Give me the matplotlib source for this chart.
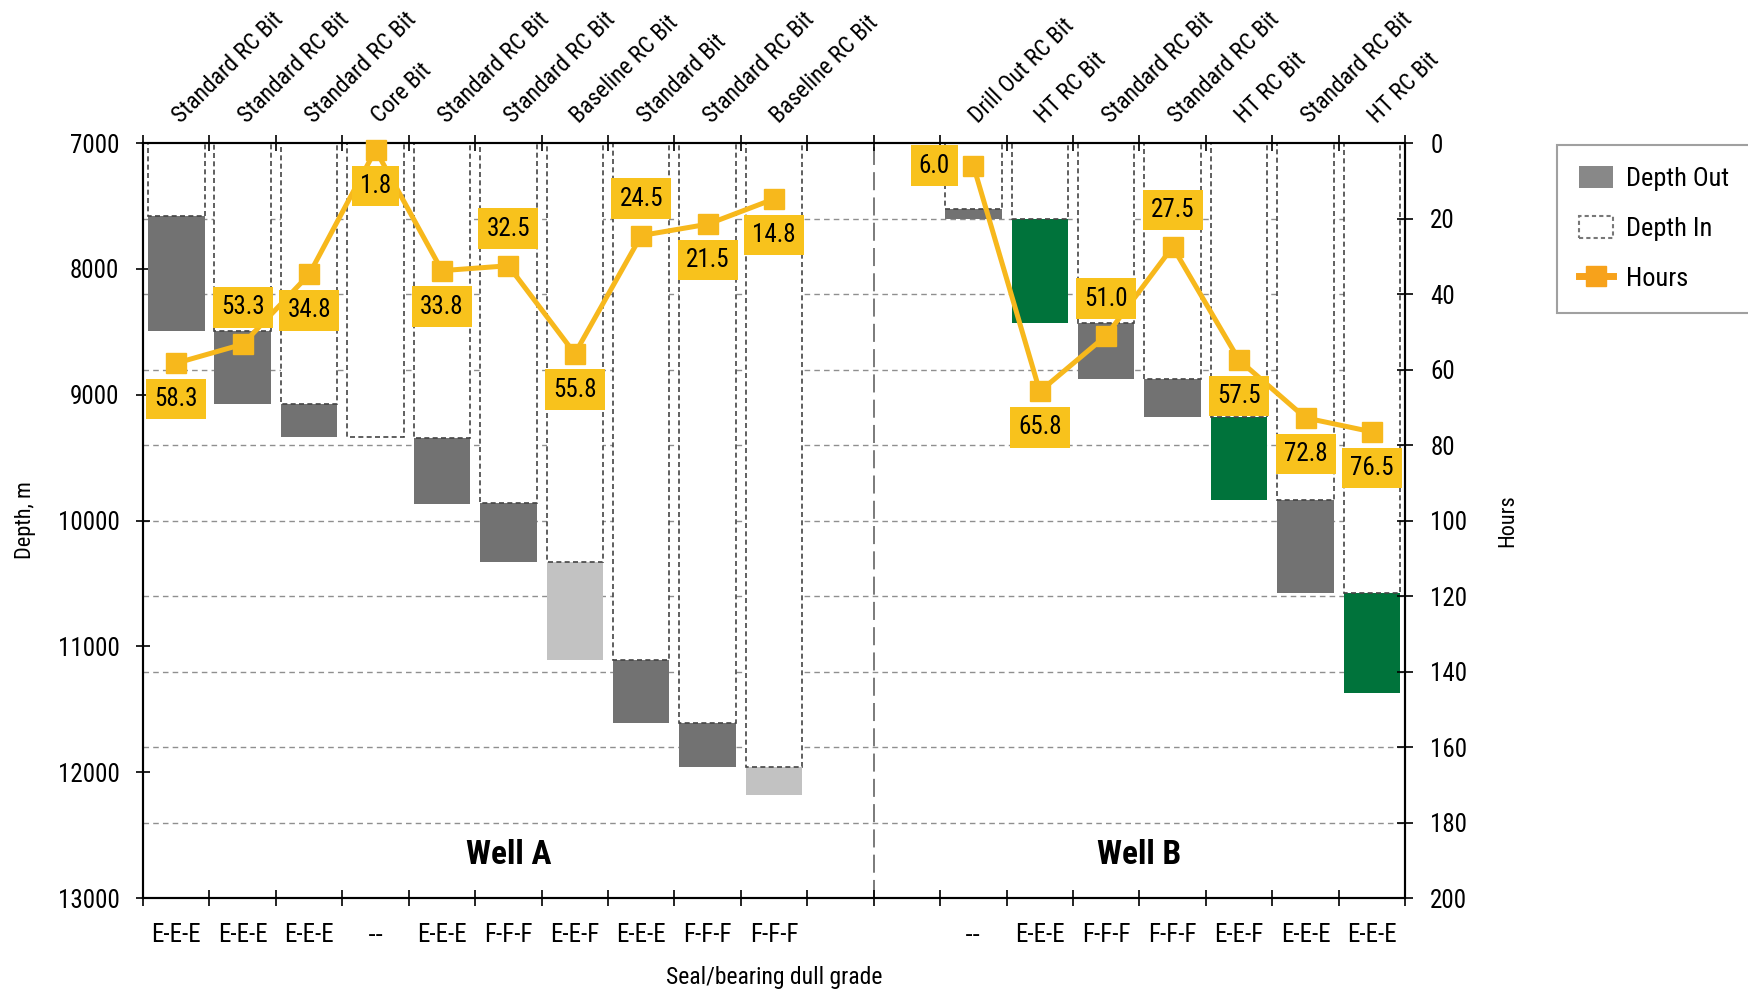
import numpy as np
import matplotlib
matplotlib.use("Agg")
import matplotlib.pyplot as plt
from matplotlib.patches import Patch
from matplotlib.lines import Line2D

plt.rcParams['font.family'] = ['Roboto Condensed', 'DejaVu Sans']

# --- data ---
well_a_bits = ["Standard RC Bit", "Standard RC Bit", "Standard RC Bit", "Core Bit",
               "Standard RC Bit", "Standard RC Bit", "Baseline RC Bit", "Standard Bit",
               "Standard RC Bit", "Baseline RC Bit"]
well_a_grades = ["E-E-E", "E-E-E", "E-E-E", "--", "E-E-E", "F-F-F", "E-E-F", "E-E-E", "F-F-F", "F-F-F"]
well_a_depth_in = [7580, 8490, 9075, 9340, 9345, 9860, 10330, 11105, 11610, 11955]
well_a_depth_out = [8490, 9075, 9335, 9340, 9865, 10330, 11105, 11610, 11955, 12180]
well_a_hours = [58.3, 53.3, 34.8, 1.8, 33.8, 32.5, 55.8, 24.5, 21.5, 14.8]

well_b_bits = ["Drill Out RC Bit", "HT RC Bit", "Standard RC Bit", "Standard RC Bit",
               "HT RC Bit", "Standard RC Bit", "HT RC Bit"]
well_b_grades = ["--", "E-E-E", "F-F-F", "F-F-F", "E-E-F", "E-E-E", "E-E-E"]
well_b_depth_in = [7525, 7600, 8430, 8872, 9180, 9835, 10575]
well_b_depth_out = [7600, 8430, 8872, 9180, 9835, 10575, 11370]
well_b_hours = [6.0, 65.8, 51.0, 27.5, 57.5, 72.8, 76.5]

depth_ticks = [7000, 8000, 9000, 10000, 11000, 12000, 13000]
hours_ticks = [0, 20, 40, 60, 80, 100, 120, 140, 160, 180, 200]

# --- style ---
DARK_GRAY = "#727272"
LIGHT_GRAY = "#c2c2c2"
GREEN = "#00733b"
LINE_YELLOW = "#f7b81c"
BOX_YELLOW = "#f8c21c"
FS = 17

def fill_color(bit):
    if bit.startswith("Baseline"):
        return LIGHT_GRAY
    if bit.startswith("HT"):
        return GREEN
    return DARK_GRAY

# label side for each hours value
side_a = ["below", "above", "below", "below", "below", "above", "below", "above", "below", "below"]
side_b = ["left", "below", "above", "above", "below", "below", "below"]
offsets = {"above": (0, 37), "below": (0, -36), "left": (-39, 0)}

x_a = np.arange(len(well_a_bits))
x_b = np.arange(len(well_b_bits)) + len(well_a_bits) + 2
n_slots = len(well_a_bits) + 2 + len(well_b_bits)
divider = len(well_a_bits) + 0.5

fig = plt.figure(figsize=(17.49, 9.9), dpi=100)
ax = fig.add_axes([0.0818, 0.0929, 0.7216, 0.7626])
ax.set_xlim(-0.5, n_slots - 0.5)
ax.set_ylim(depth_ticks[-1], depth_ticks[0])
ax2 = ax.twinx()
ax2.set_ylim(hours_ticks[-1], hours_ticks[0])

# hours gridlines, mapped onto the depth axis so they stay behind the boxes
m_per_hour = (depth_ticks[-1] - depth_ticks[0]) / hours_ticks[-1]
for h in hours_ticks[1:-1]:
    ax.axhline(depth_ticks[0] + h * m_per_hour, color="#8f8f8f", lw=1.0,
               ls=(0, (4, 3)), zorder=0)

ax.axvline(divider, color="#6f6f6f", lw=1.3, ls=(0, (10, 4)), zorder=0.5)

top = depth_ticks[0]
for xs, bits, d_in, d_out in [(x_a, well_a_bits, well_a_depth_in, well_a_depth_out),
                              (x_b, well_b_bits, well_b_depth_in, well_b_depth_out)]:
    for x, bit, di, do in zip(xs, bits, d_in, d_out):
        ax.bar(x, di - top, bottom=top, width=0.85, color="white", zorder=1)
        ax.bar(x, do - di, bottom=di, width=0.85, color=fill_color(bit), zorder=2)
        ax.bar(x, di - top, bottom=top, width=0.85, fill=False, edgecolor="#444444",
               linestyle=(0, (3, 2)), linewidth=1.2, zorder=2.5)

# hours line + value labels
for xs, hrs, sides in [(x_a, well_a_hours, side_a), (x_b, well_b_hours, side_b)]:
    ax2.plot(xs, hrs, color=LINE_YELLOW, lw=3.6, marker="s", markersize=14,
             clip_on=False, zorder=3)
    for x, h, s in zip(xs, hrs, sides):
        ax2.annotate(f"{h:.1f}", (x, h), xytext=offsets[s], textcoords="offset pixels",
                     ha="center", va="center", fontsize=18, zorder=4,
                     bbox=dict(boxstyle="square,pad=0.33", fc=BOX_YELLOW, ec="none"))

# bit names on top
for xs, bits in [(x_a, well_a_bits), (x_b, well_b_bits)]:
    for x, bit in zip(xs, bits):
        ax.annotate(bit, xy=(x, 1), xycoords=ax.get_xaxis_transform(),
                    xytext=(0, 24), textcoords="offset pixels", rotation=45,
                    rotation_mode="anchor", ha="left", va="center", fontsize=FS)

ax.text((-0.5 + divider) / 2, 0.057, "Well A", transform=ax.get_xaxis_transform(),
        ha="center", va="center", fontsize=24, fontweight="bold")
ax.text((divider + n_slots - 0.5) / 2, 0.057, "Well B", transform=ax.get_xaxis_transform(),
        ha="center", va="center", fontsize=24, fontweight="bold")

# axes, ticks
ax.set_xticks(np.concatenate([x_a, x_b]))
ax.set_xticklabels(well_a_grades + well_b_grades)
# Roboto merges "--" into one dash, so those two use DejaVu
for lbl in ax.get_xticklabels():
    if lbl.get_text() == "--":
        lbl.set_fontfamily("DejaVu Sans")
        lbl.set_fontstretch("condensed")
ax.set_xticks(np.arange(-0.5, n_slots, 1), minor=True)
ax.tick_params(axis="x", which="major", length=0, pad=18, labelsize=18)
ax.tick_params(axis="x", which="minor", direction="inout", length=12, width=1.2,
               top=True, bottom=True)
ax.set_yticks(depth_ticks)
ax.tick_params(axis="y", direction="inout", length=10, width=1.2, labelsize=18, pad=12)
ax2.set_yticks(hours_ticks)
ax2.tick_params(axis="y", direction="inout", length=12, width=1.2, labelsize=18, pad=12)

for a in (ax, ax2):
    for sp in a.spines.values():
        sp.set_linewidth(1.5)

ax.set_ylabel("Depth, m", fontsize=16)
ax.yaxis.set_label_coords(-0.085, 0.5)
ax2.set_ylabel("Hours", fontsize=16)
ax2.yaxis.set_label_coords(1.073, 0.5)
ax.set_xlabel("Seal/bearing dull grade", fontsize=17)
ax.xaxis.set_label_coords(0.5, -0.09)

handles = [Patch(facecolor="#888888"),
           Patch(facecolor="white", edgecolor="#777777", linestyle=(0, (2, 1.5)), linewidth=1.5),
           Line2D([], [], color="#f7a21b", lw=5, marker="s", markersize=14)]
leg = fig.legend(handles, ["Depth Out", "Depth In", "Hours"], loc="upper left",
                 bbox_to_anchor=(0.8905, 0.8535), borderaxespad=0, frameon=True,
                 fancybox=False, edgecolor="#888888", fontsize=19, handlelength=1.3,
                 handleheight=0.9, handletextpad=0.5, labelspacing=0.95, borderpad=0.8)
leg.get_frame().set_linewidth(1.5)

fig.savefig("out.png", dpi=100)
